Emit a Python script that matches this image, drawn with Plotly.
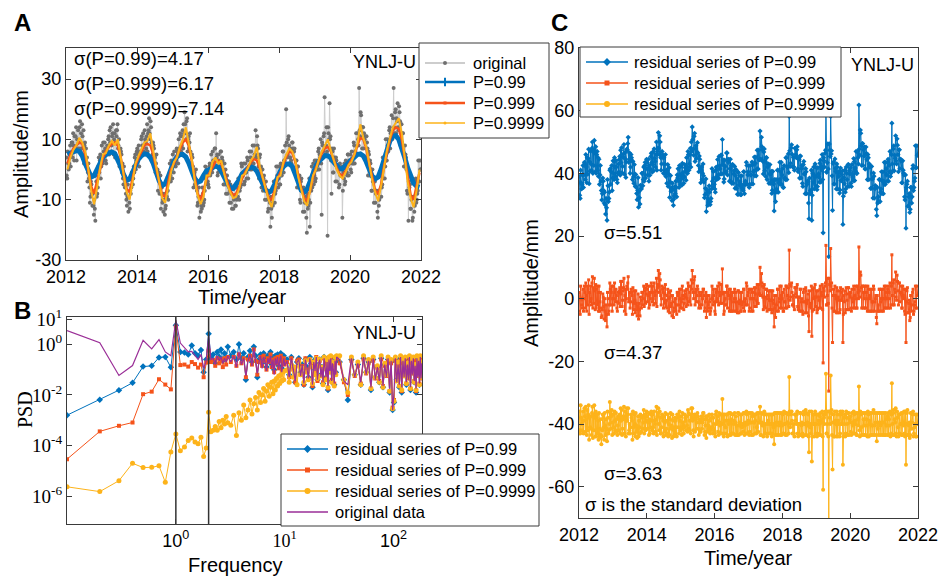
import numpy as np
import plotly.graph_objects as go

W, H = 939, 577
SANS = "Liberation Sans, Arial, sans-serif"
SERIF = "Liberation Serif, Times New Roman, serif"
INK = "#3a3a3a"

C_BLUE = "#0072BD"
C_RED = "#F5531A"
C_YELLOW = "#FDB31A"
C_PURPLE = "#9A2E97"
C_GREY_LINE = "#cdcdcd"
C_GREY_DOT = "#6f6f6f"

year_ticks = [2012, 2014, 2016, 2018, 2020, 2022]

# Vertical displacement of YNLJ (mm), Jan 2012 - Dec 2021.
# Two interleaved sample sets (a, b), three values per month each.
up_a = {
    2012: [4, -3, 2, 2, 8, 5, 9, 12, 3, 6, 14, 10, 13, 7, 16, 12, 15, 5,
           2, 9, 7, 4, -1, -3, -11, -4, -8, -8, -15, -13, -2, -9, -6, 4, 3, -3],
    2013: [8, 2, 6, 9, 3, 5, 6, 11, 13, 14, 8, 12, 5, 12, 9, 11, 15, 8,
           1, 7, 5, 2, -5, -2, -4, -10, -9, -14, -11, -7, -6, -1, -3, -1, 5, 3],
    2014: [7, 5, 1, 4, 10, 8, 12, 6, 10, 7, 15, 12, 17, 10, 14, 3, 9, 7,
           4, 2, -2, -7, -1, -4, -13, -6, -10, -8, -15, -12, -9, -7, -3, 2, -4, 0],
    2015: [5, -1, 3, 1, 7, 5, 10, 5, 11, 8, 13, 15, 19, 12, 16, 6, 11, 9,
           6, 0, 4, -6, -1, -3, -5, -12, -9, -16, -9, -12, -6, -12, -10, 1, -5, -2],
    2016: [-5, 1, -2, 5, -1, 3, 1, 7, 12, 5, -1, 3, 0, 6, 4, 2, -1, -5,
           -8, -2, -5, -4, -7, -11, -13, -6, -10, -6, -12, -10, -9, -3, -7, -5, 1, -2],
    2017: [2, -4, -1, -3, 3, 1, 6, 4, 0, 8, 2, 5, 13, 4, 8, 1, 4, -2,
           -6, 0, -3, -4, -7, -10, -7, -13, -10, -19, -13, -9, -11, -4, -8, 1, -2, -6],
    2018: [1, -5, -2, -1, 6, 3, 8, 20, 4, 10, 8, 4, 3, 9, 7, 6, 0, 3,
           -6, 1, -3, -10, -4, -7, -14, -7, -11, -9, -21, -13, -10, -19, -4, 1, -2, -5],
    2019: [3, -3, 1, 0, 7, 5, 10, -15, 8, 11, 24, 5, 14, -22, 12, 22, 11, -8,
           6, -1, 4, -4, 3, 1, 1, -5, -2, 0, -16, -1, 2, -4, 1, -2, 5, 3],
    2020: [5, -1, 3, 2, 8, 6, 12, 5, 10, 27, 11, 18, 7, 14, 12, 11, 4, 9,
           -2, 5, 3, 0, -7, -4, -11, -4, -8, -7, -16, -12, -9, -2, -6, 4, 1, -3],
    2021: [10, 3, 8, 7, 14, 12, 18, 11, 27, 12, 20, 17, 22, 13, 19, 8, 15, 12,
           8, 1, 5, 0, -8, -17, -6, -13, -10, -17, -9, -14, -4, -11, -8, 3, -4, 0],
}
up_b = {
    2012: [-2, 6, 0, 5, 1, 9, 4, 8, 11, 11, 3, 7, 9, 14, 6, 7, 11, 13,
           8, 3, 1, -4, 2, -6, -9, -5, -12, -12, -10, -17, -4, -8, 1, -1, 5, 1],
    2013: [4, 9, 3, 7, 2, 8, 10, 5, 9, 6, 11, 15, 10, 4, 13, 13, 7, 10,
           3, 6, -1, -3, 1, -6, -8, -12, -5, -9, -13, -8, -1, -5, 1, 4, 0, 6],
    2014: [3, 8, 6, 6, 11, 5, 8, 13, 9, 11, 6, 13, 12, 16, 9, 5, 8, 2,
           -1, 5, 0, -3, -8, -2, -8, -11, -14, -10, -13, -9, -5, -10, -4, -2, 3, -3],
    2015: [1, 6, 2, 3, 6, 2, 7, 12, 6, 11, 7, 12, 15, 10, 17, 10, 7, 12,
           2, 5, 1, -2, -5, 0, -7, -11, -6, -10, -14, -13, -8, -11, -7, -3, 0, -4],
    2016: [-6, 2, -1, 0, 6, 2, 7, 1, 4, -2, 5, 1, 6, -1, 3, -5, 2, 0,
           -2, -8, -4, -11, -5, -8, -6, -13, -9, -12, -6, -9, -3, -10, -6, 2, -5, -1],
    2017: [-5, 2, -1, 4, -3, 1, 0, 6, 2, 2, 8, 5, 4, 11, 7, -3, 5, 1,
           0, -7, -2, -10, -4, -7, -14, -7, -11, -9, -16, -12, -4, -11, -7, -6, 1, -3],
    2018: [-5, 2, -2, 6, -1, 3, 2, 9, 5, 11, 4, 7, 2, 9, 6, 7, -1, 3,
           1, -6, -2, -11, -3, -7, -6, -14, -10, -16, -8, -12, -3, -11, -7, -6, 2, -2],
    2019: [-4, 3, 0, 6, 0, 4, 2, 9, 6, 12, 5, 8, 6, 14, 10, 10, 3, 7,
           -1, 7, 3, 4, -4, 0, -6, 2, -2, 1, -7, -3, -5, 3, -1, 5, -2, 2],
    2020: [0, 6, 2, 9, 2, 5, 5, 12, 8, 13, 19, 14, 14, 7, 10, 4, 11, 7,
           6, -2, 2, -7, 0, -4, -3, -11, -7, -14, -7, -10, -2, -9, -5, -3, 4, 1],
    2021: [3, 10, 6, 13, 7, 10, 10, 17, 14, 19, 12, 16, 14, 21, 16, 15, 9, 12,
           1, 8, 4, -7, 0, -4, -5, -13, -9, -16, -9, -12, -3, -10, -7, -4, 3, 0],
}

# Fitted curves, one value per month
fit_p99 = [
    5.0, 5.5, 6.0, 6.3, 6.0, 4.5, 2.0, -0.5, -2.5, -2.0, 0.0, 2.5,
    4.0, 5.0, 5.6, 5.8, 5.3, 3.5, 1.0, -1.8, -3.6, -3.2, -1.0, 1.5,
    3.5, 4.6, 5.2, 5.0, 4.0, 2.0, -1.0, -3.8, -5.3, -4.8, -2.5, 0.5,
    2.8, 4.2, 5.0, 5.0, 4.2, 2.2, -0.5, -3.0, -4.2, -3.8, -2.0, -0.5,
    0.0, 0.6, 1.2, 0.8, -0.5, -2.5, -4.8, -6.2, -6.3, -5.2, -3.5, -1.5,
    -0.5, 0.4, 0.8, 0.6, -0.5, -2.8, -5.0, -6.8, -7.6, -7.0, -5.0, -2.5,
    -0.5, 1.0, 1.8, 1.9, 1.0, -1.5, -4.5, -6.8, -7.5, -6.5, -4.0, -1.0,
    1.2, 2.8, 4.0, 4.6, 4.6, 3.8, 2.4, 1.0, 0.3, 0.3, 1.0, 2.2,
    3.2, 4.3, 5.0, 5.2, 4.5, 2.6, 0.0, -2.2, -3.1, -2.5, 0.0, 3.5,
    6.5, 9.5, 11.0, 11.2, 10.0, 7.5, 4.0, 0.5, -2.5, -4.5, -5.5, -5.8,
]
fit_p999 = [
    2.0, 5.0, 7.0, 8.0, 9.0, 8.5, 5.0, 0.0, -5.5, -8.0, -4.0, 1.0,
    4.0, 6.0, 7.5, 8.5, 9.0, 8.0, 4.0, -1.5, -6.5, -7.5, -3.0, 1.5,
    4.0, 6.0, 8.0, 8.5, 8.0, 5.0, 0.5, -4.0, -8.5, -9.0, -5.0, 0.0,
    2.0, 4.5, 7.0, 9.0, 10.0, 8.0, 3.0, -3.0, -8.0, -10.0, -7.0, -3.0,
    -1.0, 1.0, 2.5, 3.0, 2.0, -1.0, -4.0, -7.0, -8.5, -8.0, -6.0, -3.0,
    -1.0, 1.0, 2.5, 3.5, 3.0, 0.5, -3.0, -6.5, -9.5, -10.0, -7.0, -3.0,
    -1.0, 2.0, 4.5, 6.0, 5.5, 2.5, -2.0, -6.0, -9.5, -10.5, -7.0, -2.5,
    0.5, 3.0, 5.5, 7.0, 7.5, 6.0, 3.0, 0.5, -1.5, -2.0, -0.5, 1.5,
    3.0, 5.0, 8.0, 10.5, 10.0, 7.0, 2.0, -3.0, -7.0, -8.0, -5.0, 1.0,
    6.0, 10.0, 13.0, 14.0, 13.5, 10.0, 4.0, -3.0, -8.5, -10.0, -6.0, -1.0,
]
fit_p9999 = [
    0.0, 4.0, 6.5, 8.0, 10.5, 9.0, 6.0, 0.5, -7.0, -11.5, -6.0, 0.5,
    5.0, 5.5, 8.0, 9.5, 8.0, 10.0, 4.0, -2.0, -7.5, -10.0, -3.5, 2.0,
    4.5, 7.0, 9.0, 9.5, 12.0, 6.0, 1.5, -4.0, -9.5, -11.0, -6.0, -1.0,
    2.5, 4.0, 7.5, 10.0, 14.0, 8.5, 3.5, -3.5, -8.5, -11.5, -9.0, -2.0,
    -2.0, 2.5, 4.0, 2.0, 3.0, -1.5, -5.0, -7.5, -9.5, -9.0, -6.5, -2.0,
    -1.5, 0.5, 3.0, 4.5, 7.5, 1.0, -3.0, -7.0, -10.0, -12.5, -7.5, -2.5,
    -2.0, 2.5, 5.0, 7.0, 6.0, 3.0, -2.5, -7.0, -10.5, -12.0, -7.0, -2.0,
    0.0, 3.5, 6.0, 8.0, 10.0, 6.5, 3.0, 0.0, -2.0, -3.0, -1.0, 1.5,
    2.5, 5.0, 8.5, 15.0, 10.5, 7.5, 2.0, -3.5, -7.5, -10.5, -5.5, 0.5,
    6.5, 10.5, 14.0, 15.5, 17.0, 12.0, 4.5, -4.0, -9.5, -12.5, -7.0, 0.0,
]

# Power spectral density (log10 of PSD) against frequency (cycles/year)
psd_p99_log = [
    -2.80, -2.19, -1.81, -1.52, -0.88, -0.85, -0.52, -0.50, -0.91, 0.75,
    -0.30, -0.32, -0.40, -0.05, -0.35, -0.45, -0.22, -1.10, -0.60, 0.42,
    -0.55, -0.40, -0.75, -0.30, -0.50, -0.20, -0.65, -0.35, -0.55, -0.10,
    -0.45, -0.30, -0.60, 0.00, -0.55, -0.35, -1.40, -0.50, -0.25, -0.70,
    -0.10, -0.45, -1.30, -0.60, -0.40, -0.75, -0.35, -0.55, -0.90, -0.45,
    -0.60, -0.30, -0.80, -0.50, -1.00, -0.45, -0.65, -0.40, -0.85, -0.55,
    -0.35, -0.95, -0.60, -0.45, -0.70,
    -0.6, -1.2, -0.5, -0.9, -1.5, -0.7, -0.55, -1.1, -0.8, -1.6,
    -0.6, -0.9, -1.3, -0.5, -0.75, -1.7, -0.65, -1.0, -0.55, -1.4,
    -0.8, -0.6, -1.2, -0.9, -1.55, -0.5, -0.85, -1.3, -0.7, -1.8,
    -0.6, -1.0, -0.55, -1.45, -0.75, -0.95, -1.6, -0.65, -1.1, -0.5,
    -0.7, -1.4, -2.2, -0.6, -1.2, -0.8, -1.6, -0.55, -1.1, -0.7,
    -1.8, -0.6, -1.3, -0.9, -1.5, -0.55, -1.7, -0.8, -1.2, -0.6,
    -1.9, -0.7, -2.6, -2.3, -0.6, -1.4, -0.8, -1.7, -0.55, -1.9,
    -0.7, -1.2, -0.6, -1.6, -0.8, -1.3, -0.55, -1.8, -0.7, -1.1,
    -0.6, -1.5, -0.8, -1.9, -0.6, -1.2, -0.7, -1.6, -0.55, -1.3,
    -0.8,
]
psd_p999_log = [
    -4.54, -3.44, -3.22, -3.09, -1.97, -1.87, -1.38, -1.59, -1.78, 0.70,
    -0.82, -0.80, -0.88, -0.70, -0.78, -0.92, -0.80, -1.30, -0.72, -0.25,
    -0.70, -0.62, -0.85, -0.55, -0.75, -0.60, -0.90, -0.55, -0.80, -0.50,
    -0.70, -0.50, -0.85, -0.40, -0.75, -0.55, -1.30, -0.60, -0.45, -0.80,
    -0.20, -0.65, -1.20, -0.70, -0.50, -0.85, -0.45, -0.65, -1.00, -0.55,
    -0.70, -0.40, -0.90, -0.60, -1.10, -0.55, -0.75, -0.50, -0.95, -0.65,
    -0.45, -1.05, -0.70, -0.55, -0.80,
    -0.7, -1.3, -0.55, -1.0, -1.5, -0.65, -0.6, -1.2, -0.85, -1.6,
    -0.55, -1.0, -1.35, -0.6, -0.8, -1.65, -0.7, -1.05, -0.5, -1.45,
    -0.85, -0.65, -1.25, -0.95, -1.5, -0.55, -0.9, -1.35, -0.75, -1.75,
    -0.65, -1.05, -0.6, -1.4, -0.8, -1.0, -1.55, -0.7, -1.15, -0.55,
    -0.75, -1.5, -2.0, -0.65, -1.25, -0.85, -1.55, -0.6, -1.15, -0.75,
    -1.75, -0.65, -1.35, -0.95, -1.45, -0.6, -1.65, -0.85, -1.25, -0.65,
    -1.85, -0.75, -2.5, -2.2, -0.65, -1.45, -0.85, -1.65, -0.6, -1.85,
    -0.75, -1.25, -0.65, -1.55, -0.85, -1.35, -0.6, -1.75, -0.75, -1.15,
    -0.65, -1.45, -0.85, -1.85, -0.65, -1.25, -0.75, -1.55, -0.6, -1.35,
    -0.85,
]
psd_p9999_log = [
    -5.63, -5.82, -5.39, -4.70, -4.87, -4.86, -4.80, -5.45, -4.25, -3.54,
    -4.21, -4.06, -3.80, -3.70, -3.86, -3.93, -3.67, -4.43, -4.10, -2.68,
    -3.45, -3.40, -3.25, -3.40, -3.05, -3.30, -3.00, -3.15, -2.85, -3.10,
    -3.20, -2.80, -3.60, -2.70, -3.00, -2.40, -2.90, -2.60, -2.20, -2.75,
    -2.35, -2.10, -2.60, -1.90, -2.30, -2.00, -1.75, -2.25, -1.85, -1.60,
    -2.05, -1.70, -1.50, -1.95, -1.45, -1.80, -1.35, -1.65, -1.25, -1.55,
    -1.20, -1.45, -1.10, -1.40, -1.05,
    -1.0, -1.5, -0.8, -1.3, -0.9, -1.6, -0.7, -1.2, -0.95, -1.5,
    -0.65, -1.1, -1.4, -0.6, -0.9, -1.55, -0.7, -1.2, -0.55, -1.35,
    -0.85, -0.6, -1.25, -0.9, -1.6, -0.5, -0.95, -1.4, -0.6, -1.7,
    -0.5, -1.1, -0.45, -1.5, -0.7, -1.0, -1.65, -0.5, -1.2, -0.45,
    -0.45, -1.4, -1.9, -0.5, -1.2, -0.7, -1.6, -0.45, -1.1, -0.6,
    -1.75, -0.5, -1.3, -0.85, -1.5, -0.45, -1.7, -0.75, -1.2, -0.5,
    -1.85, -0.6, -2.55, -2.25, -0.5, -1.45, -0.7, -1.65, -0.45, -1.8,
    -0.6, -1.25, -0.5, -1.55, -0.75, -1.3, -0.45, -1.75, -0.6, -1.1,
    -0.5, -1.5, -0.8, -1.8, -0.45, -1.2, -0.6, -1.6, -0.45, -1.3,
    -0.7,
]
psd_original_log = [
    0.54, 0.06, -1.23, -0.84, 0.16, -0.18, 0.19, -0.30, -0.45, 0.96,
    0.05, -0.12, -0.30, -0.28, -0.45, -0.60, -0.40, -0.95, -0.65, 0.35,
    -0.60, -0.55, -0.80, -0.45, -0.65, -0.50, -0.75, -0.55, -0.70, -0.45,
    -0.70, -0.45, -0.90, -0.30, -0.80, -0.55, -1.25, -0.65, -0.40, -0.85,
    -0.15, -0.60, -1.15, -0.70, -0.45, -0.95, -0.50, -0.70, -1.05, -0.55,
    -0.75, -0.45, -0.95, -0.60, -1.20, -0.55, -0.80, -0.50, -1.00, -0.65,
    -0.45, -1.10, -0.70, -0.55, -0.85,
    -0.65, -1.3, -0.55, -1.0, -1.45, -0.7, -0.6, -1.25, -0.8, -1.55,
    -0.6, -0.95, -1.35, -0.55, -0.85, -1.6, -0.7, -1.05, -0.5, -1.4,
    -0.8, -0.6, -1.3, -0.9, -1.5, -0.55, -0.95, -1.3, -0.7, -1.65,
    -0.6, -1.05, -0.55, -1.45, -0.75, -1.0, -1.55, -0.65, -1.2, -0.5,
    -0.6, -1.45, -1.6, -0.55, -1.3, -0.75, -1.5, -0.5, -1.2, -0.65,
    -1.7, -0.55, -1.4, -0.9, -1.45, -0.5, -1.65, -0.8, -1.3, -0.55,
    -1.75, -0.65, -2.6, -1.9, -0.55, -1.5, -0.8, -1.6, -0.5, -1.7,
    -0.65, -1.3, -0.55, -1.5, -0.8, -1.4, -0.5, -1.7, -0.65, -1.2,
    -0.55, -1.45, -0.85, -1.75, -0.55, -1.3, -0.65, -1.55, -0.5, -1.35,
    -0.75,
]

# ---------------------------------------------------------------- derived
years = sorted(up_a)
up_mm = np.concatenate([np.column_stack((up_a[y], up_b[y])).ravel() for y in years]).astype(float)
per_month = up_mm.size // len(fit_p99)
t_obs = 2012 + (np.arange(up_mm.size) + 0.5) / (12.0 * per_month)
t_fit = 2012 + (np.arange(len(fit_p99)) + 0.5) / 12.0

res_p99 = up_mm - np.repeat(fit_p99, per_month)
res_p999 = up_mm - np.repeat(fit_p999, per_month)
res_p9999 = up_mm - np.repeat(fit_p9999, per_month)

freq = np.concatenate([np.arange(1, 31) / 10.0, np.arange(16, 51) / 5.0,
                       np.arange(21, 61) / 2.0, np.arange(32, 183, 3.0)])
psd = {k: 10.0 ** np.array(v) for k, v in
       dict(p99=psd_p99_log, p999=psd_p999_log, p9999=psd_p9999_log,
            orig=psd_original_log).items()}


def px(x):
    return x / W


def py(y):
    return 1 - y / H


fig = go.Figure()

# ---------------------------------------------------------------- panel A
fig.add_trace(go.Scatter(x=t_obs, y=up_mm, mode="lines+markers", name="original",
                         line=dict(color=C_GREY_LINE, width=1),
                         marker=dict(color=C_GREY_DOT, size=4),
                         xaxis="x", yaxis="y"))
fig.add_trace(go.Scatter(x=t_fit, y=fit_p99, mode="lines", name="P=0.99",
                         line=dict(color=C_BLUE, width=5), xaxis="x", yaxis="y"))
fig.add_trace(go.Scatter(x=t_fit, y=fit_p999, mode="lines", name="P=0.999",
                         line=dict(color=C_RED, width=2.5), xaxis="x", yaxis="y"))
fig.add_trace(go.Scatter(x=t_fit, y=fit_p9999, mode="lines", name="P=0.9999",
                         line=dict(color=C_YELLOW, width=2), xaxis="x", yaxis="y"))

# ---------------------------------------------------------------- panel B
B_STYLE = [("p99", "residual series of P=0.99", C_BLUE, "diamond", 5),
           ("p999", "residual series of P=0.999", C_RED, "square", 4),
           ("p9999", "residual series of P=0.9999", C_YELLOW, "circle", 5)]
for key, label, color, symbol, size in B_STYLE:
    fig.add_trace(go.Scatter(x=freq, y=psd[key], mode="lines+markers", name=label,
                             line=dict(color=color, width=1),
                             marker=dict(color=color, symbol=symbol, size=size),
                             xaxis="x2", yaxis="y2"))
fig.add_trace(go.Scatter(x=freq, y=psd["orig"], mode="lines", name="original data",
                         line=dict(color=C_PURPLE, width=1.2), xaxis="x2", yaxis="y2"))
for f_mark in (1.0, 2.0):
    fig.add_trace(go.Scatter(x=[f_mark, f_mark], y=[10 ** -7.1, 10 ** 1.08], mode="lines",
                             line=dict(color="#333333", width=1.5),
                             hoverinfo="skip", xaxis="x2", yaxis="y2"))

# ---------------------------------------------------------------- panel C
for res, shift, (key, label, color, symbol, size) in zip(
        (res_p99, res_p999, res_p9999), (40, 0, -40), B_STYLE):
    fig.add_trace(go.Scatter(x=t_obs, y=res + shift, mode="lines+markers", name=label,
                             line=dict(color=color, width=1),
                             marker=dict(color=color, symbol=symbol, size=size - 1),
                             xaxis="x3", yaxis="y3"))


# ---------------------------------------------------------------- legends
# Legend boxes live on a pixel-scaled overlay axis so they sit above the data.
def legend_box(box, rows, sample, text_x, entries):
    x0, y0, x1, y1 = box
    fig.add_trace(go.Scatter(x=[x0, x1, x1, x0, x0], y=[y0, y0, y1, y1, y0], mode="lines",
                             fill="toself", fillcolor="white",
                             line=dict(color=INK, width=1), hoverinfo="skip",
                             xaxis="x4", yaxis="y4"))
    for ry, (label, color, lw, msym, msize, mcolor) in zip(rows, entries):
        fig.add_trace(go.Scatter(x=[sample[0], sample[1]], y=[ry, ry], mode="lines",
                                 line=dict(color=color, width=lw), hoverinfo="skip",
                                 xaxis="x4", yaxis="y4"))
        if msym:
            mk = dict(color=mcolor, symbol=msym, size=msize)
            if msym.startswith("line"):
                mk["line"] = dict(color=mcolor, width=2)
            fig.add_trace(go.Scatter(x=[(sample[0] + sample[1]) / 2], y=[ry], mode="markers",
                                     marker=mk, hoverinfo="skip", xaxis="x4", yaxis="y4"))
        fig.add_annotation(x=text_x, y=ry, xref="x4", yref="y4", text=label,
                           showarrow=False, xanchor="left", yanchor="middle",
                           font=dict(family=SANS, size=16.5, color="black"))


legend_box((419, 43, 549, 138), (63, 82, 103, 123), (425, 465), 471, [
    ("original", C_GREY_LINE, 2, "circle", 4, C_GREY_DOT),
    ("P=0.99", C_BLUE, 2.5, "line-ns", 6, C_BLUE),
    ("P=0.999", C_RED, 2.5, "square", 3, C_RED),
    ("P=0.9999", C_YELLOW, 1.5, "circle", 3, C_YELLOW),
])
legend_box((281, 434, 539, 526), (449, 470, 491, 512), (287, 328), 333, [
    ("residual series of P=0.99", C_BLUE, 1.5, "diamond", 6, C_BLUE),
    ("residual series of P=0.999", C_RED, 1.5, "square", 5, C_RED),
    ("residual series of P=0.9999", C_YELLOW, 1.5, "circle", 6, C_YELLOW),
    ("original data", C_PURPLE, 1.5, None, 0, C_PURPLE),
])
legend_box((580, 47, 841, 117), (62, 83, 104), (586, 628), 632, [
    ("residual series of P=0.99", C_BLUE, 1.5, "diamond", 6, C_BLUE),
    ("residual series of P=0.999", C_RED, 1.5, "square", 5, C_RED),
    ("residual series of P=0.9999", C_YELLOW, 1.5, "circle", 6, C_YELLOW),
])

# ---------------------------------------------------------------- axes
axis_common = dict(showline=True, linecolor=INK, linewidth=1.2, mirror="ticks",
                   ticks="inside", ticklen=5, tickcolor=INK, showgrid=False,
                   zeroline=False, automargin=False,
                   tickfont=dict(family=SANS, size=18, color="black"))

fig.update_layout(
    width=W, height=H, autosize=False,
    margin=dict(l=0, r=0, t=0, b=0, pad=0, autoexpand=False),
    paper_bgcolor="white", plot_bgcolor="rgba(0,0,0,0)", showlegend=False,
    xaxis=dict(domain=[px(66), px(421)], range=[2012, 2022], tickvals=year_ticks,
               anchor="y", **axis_common),
    yaxis=dict(domain=[py(260), py(48)], range=[-30, 40.3], tickvals=[-30, -10, 10, 30],
               ticktext=["-30", "-10", "10", "30"], anchor="x", **axis_common),
    xaxis2=dict(domain=[px(67), px(422)], type="log", range=[-1, np.log10(182.5)],
                tickvals=[1, 10, 100],
                ticktext=["10<sup>0</sup>",
                          "<span style='font-family:Liberation Serif'>10<sup>1</sup></span>",
                          "10<sup>2</sup>"],
                anchor="y2", **axis_common),
    yaxis2=dict(domain=[py(524), py(317)], type="log", range=[-7.1, 1.08],
                tickvals=[10, 1, 1e-2, 1e-4, 1e-6],
                ticktext=["10<sup>1</sup>", "10<sup>0</sup>", "10<sup>-2</sup>",
                          "10<sup>-4</sup>", "10<sup>-6</sup>"],
                anchor="x2", **{**axis_common,
                                "tickfont": dict(family=SERIF, size=19, color="black")}),
    xaxis3=dict(domain=[px(579), px(918)], range=[2012, 2022], tickvals=year_ticks,
                anchor="y3", **axis_common),
    yaxis3=dict(domain=[py(518), py(48)], range=[-70, 80],
                tickvals=[-60, -40, -20, 0, 20, 40, 60, 80],
                ticktext=["-60", "-40", "-20", "0", "20", "40", "60", "80"],
                anchor="x3", **axis_common),
    xaxis4=dict(domain=[0, 1], range=[0, W], visible=False, anchor="y4",
                fixedrange=True, automargin=False),
    yaxis4=dict(domain=[0, 1], range=[H, 0], visible=False, anchor="x4",
                fixedrange=True, automargin=False),
)


# ---------------------------------------------------------------- text
def note(x, y, text, size=18, family=SANS, xanchor="left", angle=0, bold=False):
    fig.add_annotation(x=px(x), y=py(y), xref="paper", yref="paper", showarrow=False,
                       text=f"<b>{text}</b>" if bold else text, textangle=angle,
                       xanchor=xanchor, yanchor="middle",
                       font=dict(family=family, size=size, color="black"))


note(22, 22, "A", size=24, xanchor="center", bold=True)
note(22, 310, "B", size=24, xanchor="center", bold=True)
note(559, 22, "C", size=24, xanchor="center", bold=True)

note(72, 58, "σ(P=0.99)=4.17", size=18.5)
note(72, 83, "σ(P=0.999)=6.17", size=18.5)
note(72, 109, "σ(P=0.9999)=7.14", size=18.5)
note(418, 62, "YNLJ-U", size=18, xanchor="right")
note(418, 333, "YNLJ-U", size=18, xanchor="right")
note(916, 65, "YNLJ-U", size=18, xanchor="right")

note(602, 233, "σ=5.51", size=18.5)
note(602, 353, "σ=4.37", size=18.5)
note(602, 473, "σ=3.63", size=18.5)
note(583, 504, "σ is the standard deviation", size=18.5)

note(21, 154, "Amplitude/mm", size=20, xanchor="center", angle=-90)
note(243, 297, "Time/year", size=20, xanchor="center")
note(25, 410, "PSD", size=20, family=SERIF, xanchor="center", angle=-90)
note(235, 565, "Frequency", size=20, xanchor="center")
note(531, 283, "Amplitude/mm", size=20, xanchor="center", angle=-90)
note(748, 558, "Time/year", size=20, xanchor="center")

fig.write_html("out.html")
